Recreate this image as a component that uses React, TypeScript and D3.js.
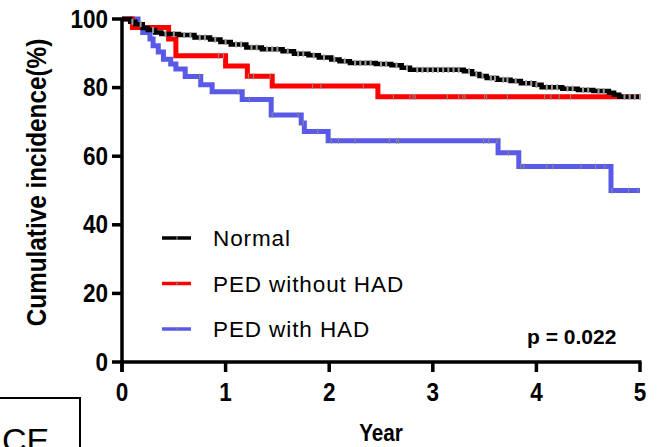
import React from 'react';
import * as d3 from 'd3';

// step points: [year, cumulative %]
const normalSteps: [number, number][] = [
  [0, 100], [0.08, 99.2], [0.13, 98.5], [0.2, 97.4], [0.25, 96.8], [0.32, 96.1],
  [0.38, 95.6], [0.55, 95.3], [0.7, 94.6], [0.85, 94.0], [0.95, 93.3], [1.05, 92.6],
  [1.2, 91.7], [1.35, 91.2], [1.55, 90.6], [1.66, 89.9], [1.8, 89.4], [1.9, 88.8],
  [2.02, 88.2], [2.1, 87.7], [2.2, 87.2], [2.45, 86.9], [2.6, 86.5], [2.7, 85.8],
  [2.78, 85.2], [3.3, 84.8], [3.38, 84.0], [3.45, 83.4], [3.52, 82.8], [3.62, 82.3],
  [3.75, 81.9], [3.85, 81.3], [3.98, 80.8], [4.05, 80.1], [4.25, 79.7], [4.4, 79.3],
  [4.55, 79.0], [4.7, 78.5], [4.75, 77.9], [4.8, 77.3]
];
const redSteps: [number, number][] = [
  [0, 100], [0.1, 97.5], [0.45, 94.2], [0.52, 89.3], [1.0, 86.3], [1.21, 83.3],
  [1.45, 80.5], [2.47, 77.3]
];
const blueSteps: [number, number][] = [
  [0, 100], [0.155, 97.6], [0.2, 96.1], [0.27, 94.2], [0.3, 92.2], [0.35, 90.4],
  [0.4, 88.3], [0.47, 86.9], [0.52, 85.4], [0.61, 83.2], [0.76, 80.8], [0.87, 78.8],
  [1.16, 76.5], [1.44, 72.0], [1.73, 69.7], [1.76, 67.2], [1.99, 64.5], [3.63, 61.0],
  [3.83, 57.0], [4.72, 50.0]
];

// censored times
const normalCensor = [
  0.1, 0.18, 0.3, 0.42, 0.5, 0.6, 0.66, 0.75, 0.8, 0.9, 1.0, 1.1, 1.15, 1.25, 1.3,
  1.4, 1.45, 1.5, 1.6, 1.7, 1.75, 1.85, 1.95, 2.05, 2.15, 2.25, 2.3, 2.35, 2.4, 2.5,
  2.55, 2.65, 2.75, 2.85, 2.9, 2.95, 3.0, 3.05, 3.1, 3.15, 3.2, 3.25, 3.35, 3.42,
  3.48, 3.56, 3.6, 3.68, 3.72, 3.8, 3.9, 3.95, 4.0, 4.1, 4.15, 4.2, 4.3, 4.35, 4.45,
  4.5, 4.6, 4.65, 4.85, 4.9, 4.95, 5.0
];
const redCensor = [
  0.93, 0.98, 1.22, 1.27, 1.43, 1.84, 1.92, 2.33, 2.62, 2.78, 2.81, 2.83, 3.14, 3.25,
  3.29, 3.31, 3.5, 3.52, 3.72, 4.08, 4.14, 4.22, 4.33
];
const blueCensor = [
  0.75, 1.12, 1.23, 1.45, 1.7, 1.75, 1.89, 2.02, 2.09, 2.25, 2.58, 2.65, 2.67, 3.49,
  3.54, 3.62, 3.73, 3.85, 3.88, 4.1, 4.16, 4.43, 4.57, 4.66, 4.73, 4.89, 4.98
];

const groups = ['Normal', 'PED without HAD', 'PED with HAD'];
const colors = ['#000000', '#ff0000', '#5a5ae8'];
const xTicks = [0, 1, 2, 3, 4, 5];
const yTicks = [0, 20, 40, 60, 80, 100];

const W = 662, H = 447;
const FONT = '"Liberation Sans", Arial, sans-serif';

const x = d3.scaleLinear().domain([0, 5]).range([122, 640]);
const y = d3.scaleLinear().domain([0, 100]).range([362, 19]);

const stepLine = d3.line<[number, number]>()
  .x(d => x(d[0]))
  .y(d => y(d[1]))
  .curve(d3.curveStepAfter);

function withEnd(steps: [number, number][]): [number, number][] {
  return [...steps, [5, steps[steps.length - 1][1]]];
}

function valueAt(steps: [number, number][], t: number) {
  let v = steps[0][1];
  for (const s of steps) if (s[0] <= t) v = s[1];
  return v;
}

export default function App() {
  const series = [
    { steps: normalSteps, censor: normalCensor, width: 4.5 },
    { steps: redSteps, censor: redCensor, width: 5 },
    { steps: blueSteps, censor: blueCensor, width: 5 }
  ];
  return (
    <svg width={W} height={H} style={{ position: 'absolute', left: 0, top: 0, background: '#fff' }}>
      {/* curves, blue under red under black */}
      {[2, 1, 0].map(i => (
        <g key={groups[i]}>
          <path d={stepLine(withEnd(series[i].steps)) || ''} fill="none"
            stroke={colors[i]} strokeWidth={series[i].width} />
          {series[i].censor.map((t, j) => (
            <line key={j} x1={x(t)} x2={x(t)}
              y1={y(valueAt(series[i].steps, t)) - 3} y2={y(valueAt(series[i].steps, t)) + 3}
              stroke={i === 0 ? '#9a9a9a' : '#8c8c8c'} strokeWidth={i === 0 ? 2 : 1} />
          ))}
        </g>
      ))}

      {/* axes */}
      <g stroke="#000" strokeWidth={3.5}>
        <line x1={x(0)} x2={x(0)} y1={y(100) - 1} y2={y(0) + 10} />
        <line x1={x(0) - 1} x2={x(5) + 1.5} y1={y(0)} y2={y(0)} />
        {yTicks.map(v => (
          <line key={v} x1={x(0) - 10} x2={x(0)} y1={y(v)} y2={y(v)} />
        ))}
        {xTicks.map(v => (
          <line key={v} x1={x(v)} x2={x(v)} y1={y(0)} y2={y(0) + 10} />
        ))}
      </g>
      {yTicks.map(v => (
        <text key={v} transform={`translate(108,${y(v) + 8.5}) scale(0.9,1)`} textAnchor="end"
          fontFamily={FONT} fontWeight="bold" fontSize={25}>{v}</text>
      ))}
      {xTicks.map(v => (
        <text key={v} transform={`translate(${x(v)},401) scale(0.9,1)`} textAnchor="middle"
          fontFamily={FONT} fontWeight="bold" fontSize={25}>{v}</text>
      ))}
      <text transform={`translate(46,${(y(0) + y(100)) / 2 - 8}) rotate(-90) scale(0.9,1)`}
        textAnchor="middle" fontFamily={FONT} fontWeight="bold" fontSize={27}>
        Cumulative incidence(%)
      </text>
      <text transform={`translate(${x(2.5)},441) scale(0.9,1)`} textAnchor="middle"
        fontFamily={FONT} fontWeight="bold" fontSize={23}>Year</text>

      {/* legend */}
      {groups.map((g, i) => (
        <g key={g} transform={`translate(0,${238 + i * 45.5})`}>
          <line x1={162} x2={191} y1={0} y2={0} stroke={colors[i]} strokeWidth={3.5} />
          <line x1={177} x2={177} y1={-2} y2={2} stroke="#8c8c8c" strokeWidth={1} />
          <text x={213} y={8} fontFamily={FONT} fontSize={22.5} letterSpacing={0.9}>{g}</text>
        </g>
      ))}
      <text x={527} y={344} fontFamily={FONT} fontWeight="bold" fontSize={21}>p = 0.022</text>

      {/* panel label box */}
      <rect x={-2} y={398} width={82} height={60} fill="none" stroke="#000" strokeWidth={2} />
      <text x={2} y={452} fontFamily={FONT} fontSize={34}>CE</text>
    </svg>
  );
}
